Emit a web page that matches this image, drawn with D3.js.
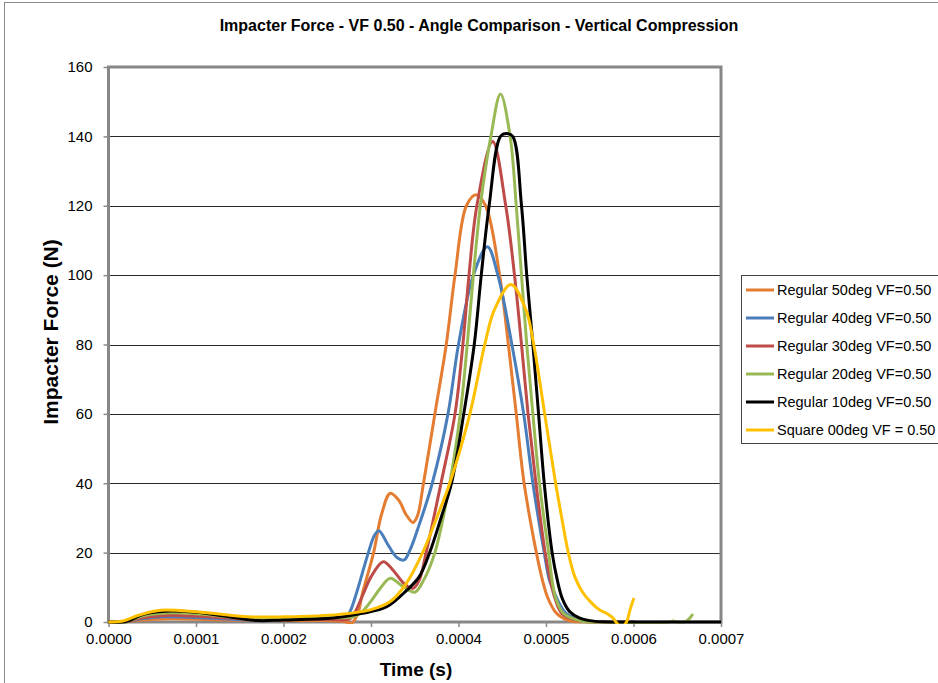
<!DOCTYPE html>
<html>
<head>
<meta charset="utf-8">
<script src="https://cdn.jsdelivr.net/npm/d3@7"></script>
<style>
  html, body { margin: 0; padding: 0; background: #fff; }
  svg { display: block; }
  text { font-family: "Liberation Sans", Arial, sans-serif; fill: #000; }
</style>
</head>
<body>
<svg id="chart" width="938" height="683"></svg>
<script>
// ---------- DATA (time in microseconds, force in N) ----------
const chartTitle = "Impacter Force - VF 0.50 - Angle Comparison - Vertical Compression";
const xTitle = "Time (s)";
const yTitle = "Impacter Force (N)";
const xTicks = [0, 100, 200, 300, 400, 500, 600, 700];
const yTicks = [0, 20, 40, 60, 80, 100, 120, 140, 160];

const seriesNames = [
  "Regular 50deg VF=0.50",
  "Regular 40deg VF=0.50",
  "Regular 30deg VF=0.50",
  "Regular 20deg VF=0.50",
  "Regular 10deg VF=0.50",
  "Square 00deg VF = 0.50"
];
const seriesColors = ["#E47C32", "#4A7EBB", "#BE4B48", "#98B954", "#000000", "#FFC000"];

const reg50 = [[0,0],[20,0.1],[40,0.6],[65,0.9],[100,0.8],[150,0.5],[200,0.4],[250,0.4],[270,0.1],[278,-0.3],[285,2.5],[290,8],[303,20],[312,31],[322,37.1],[332,35],[340,31],[348,28.7],[353,30.5],[360,40],[373,60],[386,80],[396,100],[409,120],[420,123.2],[431,120],[447,100],[457,80],[466,60],[475,40],[489,20],[496,12],[502,7],[512,2.5],[525,0.5],[550,0],[600,0]];
const reg40 = [[0,0],[20,0.1],[40,1.0],[65,1.5],[100,1.3],[160,0.6],[200,0.7],[250,0.9],[270,1.0],[276,3],[283,8],[297,20],[304,25],[309,26.3],[320,22],[330,18.5],[338,17.9],[345,21],[355,28],[370,40],[388,60],[400,80],[417,100],[433,108.2],[445,100],[461,80],[474.5,60],[485,40],[498,20],[504,12],[512,7],[523,2.5],[540,0.5],[560,0],[600,0]];
const reg30 = [[0,0],[20,0.1],[40,1.3],[65,1.9],[100,1.7],[160,0.8],[200,0.7],[250,0.8],[275,0.8],[281,2.5],[291,8],[300,13],[314,17.4],[325,15],[338,11],[348,9.7],[355,12],[363,20],[380,40],[396,60],[405,80],[412,100],[421,120],[439,138.5],[454,120],[464,100],[472,80],[479.5,60],[488.5,40],[499,20],[505,12],[510,7],[518,2.5],[535,0.5],[560,0],[600,0]];
const reg20 = [[0,0],[20,0.1],[40,1.8],[65,2.6],[100,2.4],[160,1.0],[200,0.9],[250,1.2],[280,1.5],[290,3],[300,6],[310,9.5],[322,12.6],[335,10.5],[350,8.6],[360,12],[373,20],[390,40],[402,60],[410,80],[417,100],[425,120],[437,140],[448,152.2],[459,140],[466,120],[472,100],[478,80],[485,60],[492.5,40],[503,20],[507,12],[511,7],[520,2.5],[540,0.3],[560,0],[640,0],[645,0.3],[650,0],[660,0.2],[667,2.0]];
const reg10 = [[0,0],[20,0.1],[40,2.2],[65,3.1],[100,2.8],[130,1.8],[170,0.4],[200,0.6],[250,1.0],[270,1.6],[290,2.5],[318,4.4],[341,9.2],[355,13],[367,20],[380,30],[392,40],[406,60],[418,80],[426,100],[435,120],[448,140],[455,140.8],[462,140],[472,120],[478,100],[485,80],[491.5,60],[498,40],[507,20],[513,12],[519,6.5],[527,3],[538,1.2],[550,0.4],[565,0.05],[580,0],[700,0]];
const sq00 = [[0,0],[15,0.2],[35,2.0],[60,3.4],[105,2.8],[160,1.5],[200,1.5],[264,2.2],[299,3.5],[322,5.9],[340,11],[359,20],[375,30],[390,40],[413,60],[430,80],[441,90],[460,97.3],[477,90],[486,80],[498.5,60],[511,40],[518,30],[525.5,20],[533,13],[542,8.5],[552,5.5],[561,3.5],[570,2.4],[576,1.3],[580,0],[586,-1.5],[592,0],[596,3.5],[600,6.6]];

const seriesData = [reg50, reg40, reg30, reg20, reg10, sq00];

// ---------- DRAW ----------
const svg = d3.select("#chart");
svg.append("rect").attr("x", 0).attr("y", 0).attr("width", 938).attr("height", 683).attr("fill", "#fff");
svg.append("rect").attr("x", 4.5).attr("y", 2.5).attr("width", 1000).attr("height", 1000)
  .attr("fill", "none").attr("stroke", "#8a8a8a").attr("stroke-width", 1);

const L = 108.5, R = 721, T = 67, B = 622;
const x = d3.scaleLinear().domain([0, 700]).range([L, R]);
const y = d3.scaleLinear().domain([0, 160]).range([B, T]);

// gridlines
svg.append("g").selectAll("line").data(yTicks.filter(d => d > 0 && d < 160)).join("line")
  .attr("x1", L).attr("x2", R).attr("y1", d => Math.round(y(d)) + 0.5).attr("y2", d => Math.round(y(d)) + 0.5)
  .attr("stroke", "#2b2b2b").attr("stroke-width", 1);

// axes ticks
const yAxis = d3.axisLeft(y).tickValues(yTicks).tickSize(5).tickPadding(11).tickFormat(d3.format("d"));
const gy = svg.append("g").attr("transform", `translate(${L},0)`).call(yAxis);
gy.select(".domain").remove();
gy.selectAll(".tick line").attr("stroke", "#8a8a8a").attr("stroke-width", 1.5);
gy.selectAll(".tick text").attr("font-size", 15).attr("font-family", "Liberation Sans, Arial, sans-serif");

const xAxis = d3.axisBottom(x).tickValues(xTicks).tickSize(5).tickPadding(6)
  .tickFormat(d => (d / 1e6).toFixed(4));
const gx = svg.append("g").attr("transform", `translate(0,${B})`).call(xAxis);
gx.select(".domain").remove();
gx.selectAll(".tick line").attr("stroke", "#8a8a8a").attr("stroke-width", 1.5);
gx.selectAll(".tick text").attr("font-size", 15).attr("font-family", "Liberation Sans, Arial, sans-serif");

// plot frame
svg.append("rect").attr("x", L).attr("y", T).attr("width", R - L).attr("height", B - T)
  .attr("fill", "none").attr("stroke", "#878787").attr("stroke-width", 3);

// clip
svg.append("clipPath").attr("id", "plotclip").append("rect")
  .attr("x", L).attr("y", T - 2).attr("width", R - L).attr("height", B - T + 4);

const line = d3.line().x(d => x(d[0])).y(d => y(d[1])).curve(d3.curveCatmullRom.alpha(0.5));
const gl = svg.append("g").attr("clip-path", "url(#plotclip)");
seriesData.forEach((s, i) => {
  gl.append("path").datum(s).attr("d", line)
    .attr("fill", "none").attr("stroke", seriesColors[i]).attr("stroke-width", 3)
    .attr("stroke-linejoin", "round").attr("stroke-linecap", "round");
});

// titles
svg.append("text").attr("x", 479).attr("y", 31).attr("text-anchor", "middle")
  .attr("font-size", 16).attr("font-weight", "bold").text(chartTitle);
svg.append("text").attr("x", 416).attr("y", 676).attr("text-anchor", "middle")
  .attr("font-size", 19).attr("font-weight", "bold").text(xTitle);
svg.append("text").attr("transform", "translate(58,332) rotate(-90)").attr("text-anchor", "middle")
  .attr("font-size", 21).attr("font-weight", "bold").text(yTitle);

// legend
const lg = svg.append("g");
lg.append("rect").attr("x", 741.5).attr("y", 275.5).attr("width", 220).attr("height", 168)
  .attr("fill", "#fff").attr("stroke", "#444").attr("stroke-width", 1);
seriesNames.forEach((n, i) => {
  const yy = 290 + 28 * i;
  lg.append("line").attr("x1", 746).attr("x2", 774).attr("y1", yy).attr("y2", yy)
    .attr("stroke", seriesColors[i]).attr("stroke-width", 3);
  lg.append("text").attr("x", 777).attr("y", yy).attr("dy", "0.35em")
    .attr("font-size", 14.5).text(n);
});
</script>
</body>
</html>
